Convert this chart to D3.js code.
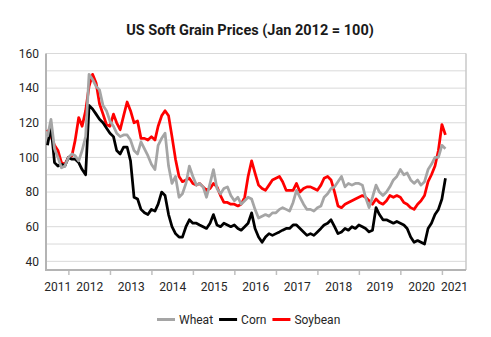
<!doctype html>
<html>
<head>
<meta charset="utf-8" />
<title>US Soft Grain Prices</title>
<script src="https://cdn.jsdelivr.net/npm/d3@7"></script>
<style>
    body { margin: 0; background: #fff; }
    svg text { font-family: Roboto, "Liberation Sans", sans-serif; fill: #262626; }
</style>
</head>
<body>
<svg id="chart" width="491" height="337"></svg>

<script type="text/javascript">
// monthly index values, Jan 2012 = 100, from Jul 2011 to Feb 2021
var firstMonth = new Date(2011, 6, 1);

var wheat = [
    112, 122, 105, 100, 94, 95,
    100, 102, 101, 98, 104, 112, 148, 145, 141, 139, 130, 127,
    121, 118, 114, 112, 113, 113, 110, 104, 102, 109, 105, 101,
    96, 93, 107, 111, 114, 95, 85, 89, 77, 79, 85, 95,
    89, 84, 85, 83, 77, 85, 93, 82, 79, 82, 83, 78,
    75, 77, 73, 75, 77, 76, 70, 65, 66, 67, 66, 68,
    68, 70, 71, 70, 69, 74, 81, 77, 73, 70, 70, 69,
    71, 72, 77, 79, 82, 83, 86, 89, 83, 85, 84, 85,
    85, 84, 77, 71, 77, 84, 80, 78, 80, 83, 87, 89,
    93, 90, 91, 87, 85, 87, 84, 86, 93, 96, 100, 100,
    107, 105
];

var corn = [
    107, 118, 97, 95, 96, 95,
    100, 99, 99, 97, 93, 90, 130, 128, 125, 122, 120, 117,
    114, 112, 104, 102, 106, 106, 98, 77, 76, 70, 68, 67,
    70, 69, 73, 80, 78, 67, 60, 56, 54, 54, 60, 64,
    62, 62, 61, 60, 59, 62, 67, 61, 60, 62, 61, 60,
    61, 59, 58, 60, 62, 68, 59, 54, 51, 54, 56, 55,
    56, 57, 58, 59, 59, 61, 61, 59, 57, 55, 56, 55,
    57, 59, 61, 62, 64, 60, 56, 57, 59, 58, 60, 59,
    61, 60, 59, 57, 58, 71, 67, 64, 64, 63, 62, 63,
    62, 61, 59, 54, 51, 52, 51, 50, 59, 62, 67, 70,
    76, 88
];

var soybean = [
    116, 112, 107, 104, 97, 96,
    100, 101, 110, 123, 118, 127, 141, 148, 143, 131, 125, 119,
    118, 125, 120, 116, 124, 132, 127, 120, 121, 111, 111, 110,
    112, 110, 118, 124, 127, 124, 112, 99, 89, 86, 87, 88,
    85, 84, 85, 83, 81, 82, 85, 83, 78, 74, 74, 73,
    73, 72, 73, 77, 89, 98, 91, 84, 82, 81, 84, 87,
    88, 89, 86, 81, 81, 81, 85, 80, 82, 83, 83, 82,
    81, 84, 88, 89, 87, 80, 72, 71, 73, 74, 75, 76,
    77, 78, 77, 75, 73, 76, 74, 73, 75, 78, 77, 78,
    77, 74, 73, 71, 70, 73, 75, 78, 86, 90, 95, 104,
    119, 113
];

var years = [2011, 2012, 2013, 2014, 2015, 2016, 2017, 2018, 2019, 2020, 2021];
var yTicks = [40, 60, 80, 100, 120, 140, 160];

var seriesList = [
    { key: 'Wheat', values: wheat, color: '#a5a5a5' },
    { key: 'Corn', values: corn, color: '#000000' },
    { key: 'Soybean', values: soybean, color: '#ff0000' }
];

var plotLeft = 46, plotRight = 466, plotTop = 53.5, plotBottom = 270;
var startDate = new Date(2011, 5, 18), endDate = new Date(2021, 7, 1);

var svg = d3.select('svg#chart');

var x = d3.scaleTime().domain([startDate, endDate]).range([plotLeft, plotRight]);
var y = d3.scaleLinear().domain([35, 160]).range([plotBottom, plotTop]);

// title
svg.append('text')
    .attr('x', 250).attr('y', 35)
    .attr('text-anchor', 'middle')
    .style('font-size', '14.5px').style('font-weight', 700)
    .style('fill', '#1a1a1a')
    .text('US Soft Grain Prices (Jan 2012 = 100)');

// gridlines every 10
svg.append('g').selectAll('line')
    .data(d3.range(40, 161, 10))
    .enter().append('line')
    .attr('x1', plotLeft).attr('x2', plotRight)
    .attr('y1', function(d) { return y(d); })
    .attr('y2', function(d) { return y(d); })
    .attr('stroke', '#d9d9d9').attr('stroke-width', 1);

// y axis labels
var yAxis = svg.append('g')
    .attr('transform', 'translate(' + plotLeft + ',0)')
    .call(d3.axisLeft(y).tickValues(yTicks).tickSize(0).tickPadding(7));
yAxis.select('.domain').remove();
yAxis.selectAll('text').style('font-size', '12px').style('font-family', 'Roboto');

// x axis ticks at year boundaries
var yearStarts = years.slice(1).map(function(yr) { return new Date(yr, 0, 1); });
var xTicks = svg.append('g')
    .attr('transform', 'translate(0,' + plotBottom + ')')
    .call(d3.axisBottom(x).tickValues(yearStarts).tickSize(5).tickFormat(''));
xTicks.select('.domain').remove();
xTicks.selectAll('line').attr('stroke', '#bfbfbf').attr('stroke-width', 1.5);

// year labels centred inside the visible part of each year
var labelDates = years.map(function(yr) {
    var a = Math.max(+new Date(yr, 0, 1), +startDate);
    var b = Math.min(+new Date(yr + 1, 0, 1), +endDate);
    return new Date((a + b) / 2);
});
var xLabels = svg.append('g')
    .attr('transform', 'translate(0,' + plotBottom + ')')
    .call(d3.axisBottom(x).tickValues(labelDates).tickSize(0).tickPadding(12)
        .tickFormat(d3.timeFormat('%Y')));
xLabels.select('.domain').remove();
xLabels.selectAll('text').style('font-size', '12px').style('font-family', 'Roboto');

// frame lines
svg.append('line')
    .attr('x1', plotLeft).attr('x2', plotLeft).attr('y1', plotTop).attr('y2', plotBottom)
    .attr('stroke', '#b4b4b4').attr('stroke-width', 2);
svg.append('line')
    .attr('x1', plotRight).attr('x2', plotRight).attr('y1', plotTop).attr('y2', plotBottom)
    .attr('stroke', '#c8c8c8').attr('stroke-width', 1.5);
svg.append('line')
    .attr('x1', plotLeft - 1).attr('x2', plotRight).attr('y1', plotBottom).attr('y2', plotBottom)
    .attr('stroke', '#b4b4b4').attr('stroke-width', 2);

// series lines (soybean underneath, wheat on top)
var line = d3.line()
    .x(function(d, i) { return x(d3.timeMonth.offset(firstMonth, i)); })
    .y(function(d) { return y(d); });

svg.append('g').selectAll('path')
    .data(seriesList.slice().reverse())
    .enter().append('path')
    .attr('d', function(d) { return line(d.values); })
    .attr('fill', 'none')
    .attr('stroke', function(d) { return d.color; })
    .attr('stroke-width', 2.75)
    .attr('stroke-linejoin', 'round');

// legend
var legendX = 157, legendY = 319.5;
seriesList.forEach(function(s) {
    svg.append('line')
        .attr('x1', legendX).attr('x2', legendX + 18)
        .attr('y1', legendY).attr('y2', legendY)
        .attr('stroke', s.color).attr('stroke-width', 3);
    var t = svg.append('text')
        .attr('x', legendX + 22).attr('y', legendY)
        .attr('dy', '0.35em')
        .style('font-size', '12px')
        .text(s.key);
    legendX += 22 + t.node().getComputedTextLength() + 6;
});
</script>
</body>
</html>
